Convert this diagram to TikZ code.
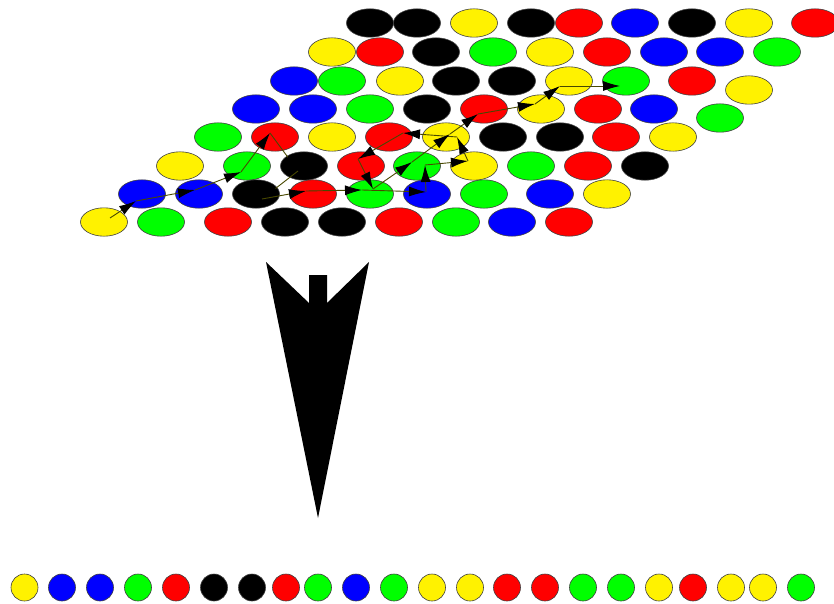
\documentclass[tikz,border=0pt]{standalone}
\usetikzlibrary{arrows.meta,shapes.geometric}
\definecolor{walkline}{RGB}{72,72,0}
\begin{document}
\begin{tikzpicture}[x=1pt,y=-1pt,
  cell/.style={ellipse, draw=black!75, line width=0.6pt, minimum width=47pt, minimum height=28.4pt, inner sep=0pt},
  dot/.style={circle, draw=black!75, line width=0.6pt, minimum size=27pt, inner sep=0pt},
  walk/.style={draw=walkline, line width=0.9pt, -{Latex[length=17pt,width=10pt,black]}},
  bigarrow/.style={fill=black}]
\useasboundingbox (0,0) rectangle (834,604);

% hexagonal board
\foreach \x/\c [count=\i] in {370/black,417/black,474/yellow,531/black,579/red,635/blue,692/black,749/yellow,815/red}
  \node[cell,fill=\c] (r0c\i) at (\x,23) {};
\foreach \x/\c [count=\i] in {332/yellow,380/red,436/black,493/green,550/yellow,607/red,664/blue,720/blue,777/green}
  \node[cell,fill=\c] (r1c\i) at (\x,52) {};
\foreach \x/\c [count=\i] in {294/blue,342/green,400/yellow,456/black,512/black,569/yellow,626/green,692/red}
  \node[cell,fill=\c] (r2c\i) at (\x,81) {};
\node[cell,fill=yellow] (r2c9) at (749,90) {};
\foreach \x/\c [count=\i] in {256/blue,313/blue,370/green,427/black,484/red,541/yellow,598/red,654/blue}
  \node[cell,fill=\c] (r3c\i) at (\x,109) {};
\node[cell,fill=green] (r3c9) at (720,118) {};
\foreach \x/\c [count=\i] in {218/green,275/red,332/yellow,389/red,446/yellow,503/black,560/black,616/red,673/yellow}
  \node[cell,fill=\c] (r4c\i) at (\x,137) {};
\foreach \x/\c [count=\i] in {180/yellow,247/green,304/black,361/red,417/green,474/yellow,531/green,588/red,645/black}
  \node[cell,fill=\c] (r5c\i) at (\x,166) {};
\foreach \x/\c [count=\i] in {142/blue,199/blue,256/black,313/red,370/green,427/blue,484/green,550/blue,607/yellow}
  \node[cell,fill=\c] (r6c\i) at (\x,194) {};
\foreach \x/\c [count=\i] in {104/yellow,161/green,228/red,285/black,342/black,399/red,456/green,512/blue,569/red}
  \node[cell,fill=\c] (r7c\i) at (\x,222) {};

% walk points
\coordinate (p0) at (110,218);
\coordinate (p1) at (136,201);
\coordinate (p2) at (195,190);
\coordinate (p3) at (241,172);
\coordinate (p4) at (270,133);
\coordinate (p5) at (298,171);
\coordinate (p6) at (262,199);
\coordinate (p7) at (306,191);
\coordinate (p8) at (362,190);
\coordinate (p9) at (426,192);
\coordinate (p10) at (425,165);
\coordinate (p11) at (468,161);
\coordinate (p12) at (457,137);
\coordinate (p13) at (403,133);
\coordinate (p14) at (358,159);
\coordinate (p15) at (373,189);
\coordinate (p16) at (412,162);
\coordinate (p17) at (450,134);
\coordinate (p18) at (478,114);
\coordinate (p19) at (535,104);
\coordinate (p20) at (560,86);
\coordinate (p21) at (620,86);
\foreach \a [evaluate=\a as \b using int(\a+1)] in {0,...,20}
  \draw[walk] (p\a) -- (p\b);

% big downward arrow
\fill[bigarrow] (266,262) -- (309,303) -- (309,275) -- (327,275) -- (327,303) -- (369,262) -- (318,518) -- cycle;

% resulting sequence
\foreach \x/\c [count=\i] in {24.5/yellow,62/blue,100/blue,138/green,176/red,214/black,252/black,286/red,318/green,356/blue,394/green,432/yellow,470/yellow,507/red,545/red,583/green,621/green,659/yellow,693/red,731/yellow,763/yellow,801/green}
  \node[dot,fill=\c] (d\i) at (\x,587.5) {};
\end{tikzpicture}
\end{document}
